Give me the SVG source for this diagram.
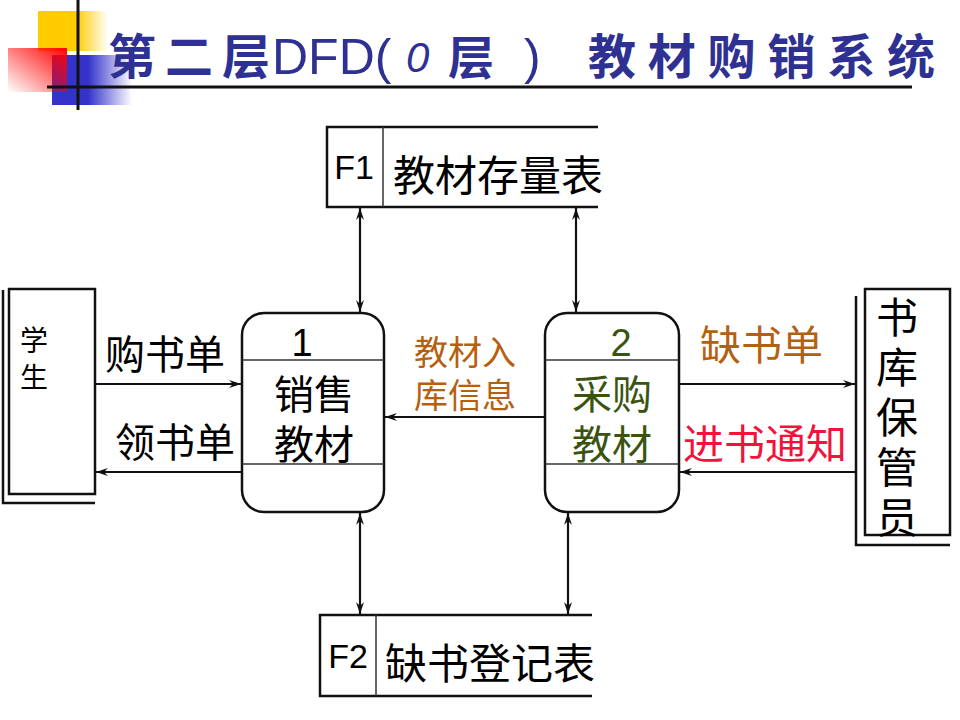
<svg xmlns="http://www.w3.org/2000/svg" width="960" height="720" viewBox="0 0 960 720">
<style>
.t{font-family:"Noto Sans CJK SC","Liberation Sans",sans-serif;}
.l{font-family:"Liberation Sans","Noto Sans CJK SC",sans-serif;}
.box{fill:#fff;stroke:#111;stroke-width:2.5;}
.ln{stroke:#111;stroke-width:2.5;fill:none;}
.thin{stroke:#333;stroke-width:1.5;fill:none;}
.con{stroke:#111;stroke-width:2.2;fill:none;}
.title{fill:#2E3192;}
</style>
<defs>
<linearGradient id="gy" x1="0" y1="0" x2="1" y2="0"><stop offset="0" stop-color="#FFCC00"/><stop offset="0.55" stop-color="#FFCC00"/><stop offset="1" stop-color="#FFCC00" stop-opacity="0"/></linearGradient>
<linearGradient id="gb" x1="0" y1="0" x2="1" y2="0"><stop offset="0" stop-color="#3333CC"/><stop offset="0.45" stop-color="#3333CC"/><stop offset="1" stop-color="#3333CC" stop-opacity="0"/></linearGradient>
<linearGradient id="gr" x1="1" y1="0" x2="0" y2="1"><stop offset="0" stop-color="#FF0000"/><stop offset="1" stop-color="#FF0000" stop-opacity="0"/></linearGradient>
<marker id="ah" viewBox="0 0 12 8" refX="12" refY="4" markerWidth="12" markerHeight="8" markerUnits="userSpaceOnUse" orient="auto-start-reverse"><path d="M0,0 L12,4 L0,8 L4,4 Z" fill="#111"/></marker>
</defs>
<rect width="960" height="720" fill="#fff"/>
<g id="decor">
<rect x="38" y="11" width="70" height="40" fill="url(#gy)"/>
<rect x="52" y="55" width="80" height="50" fill="url(#gb)"/>
<rect x="8" y="48" width="59" height="44" fill="url(#gr)"/>
<line x1="78" y1="0" x2="78" y2="110" stroke="#111" stroke-width="3"/>
<line x1="47" y1="87" x2="912" y2="87" stroke="#111" stroke-width="3"/>
</g>
<g id="title" class="title">
<text class="t" x="108" y="74" font-size="48" font-weight="bold" textLength="162" lengthAdjust="spacing">第二层</text>
<text class="l" x="272" y="74" font-size="50">DFD(</text>
<text class="l" x="406" y="72" font-size="42" font-style="italic">0</text>
<text class="t" x="448" y="74" font-size="46" font-weight="bold">层</text>
<text class="l" x="524" y="74" font-size="50">)</text>
<text class="t" x="588" y="74" font-size="48" font-weight="bold" textLength="347" lengthAdjust="spacing">教材购销系统</text>
</g>
<g id="F1">
<path class="ln" d="M598,127 H327 V207 H598"/>
<line class="thin" x1="383" y1="127" x2="383" y2="207"/>
<text class="l" x="354" y="179" font-size="34" text-anchor="middle">F1</text>
<text class="t" x="393" y="191" font-size="42">教材存量表</text>
</g>
<g id="F2">
<path class="ln" d="M592,615 H320 V696 H592"/>
<line class="thin" x1="376" y1="615" x2="376" y2="696"/>
<text class="l" x="348" y="668" font-size="34" text-anchor="middle">F2</text>
<text class="t" x="385" y="679" font-size="42">缺书登记表</text>
</g>
<g id="student">
<path class="ln" d="M3,290 V503 H95"/>
<rect class="box" x="9" y="289" width="86" height="205"/>
<text class="l" x="20" y="351" font-size="28">学</text>
<text class="l" x="20" y="388" font-size="28">生</text>
</g>
<g id="keeper">
<path class="ln" d="M856,296 V545 H950"/>
<rect class="box" x="865" y="289" width="85" height="246"/>
<text class="t" x="897" y="296" font-size="42" writing-mode="vertical-rl" letter-spacing="8">书库保管员</text>
</g>
<g id="p1">
<rect class="box" x="242" y="313" width="142" height="199" rx="22"/>
<line class="thin" x1="242" y1="360" x2="384" y2="360"/>
<line class="thin" x1="242" y1="464" x2="384" y2="464"/>
<text class="l" x="302" y="356" font-size="38" text-anchor="middle">1</text>
<text class="l" x="314" y="409" font-size="40" text-anchor="middle">销售</text>
<text class="l" x="314" y="459" font-size="40" text-anchor="middle">教材</text>
</g>
<g id="p2">
<rect class="box" x="545" y="313" width="134" height="199" rx="22"/>
<line class="thin" x1="545" y1="360" x2="679" y2="360"/>
<line class="thin" x1="545" y1="464" x2="679" y2="464"/>
<text class="l" x="621" y="356" font-size="38" text-anchor="middle" fill="#3A5410">2</text>
<text class="l" x="612" y="409" font-size="40" text-anchor="middle" fill="#3A5410">采购</text>
<text class="l" x="612" y="459" font-size="40" text-anchor="middle" fill="#3A5410">教材</text>
</g>
<g id="connectors">
<line class="con" x1="360" y1="208" x2="360" y2="312" marker-start="url(#ah)" marker-end="url(#ah)"/>
<line class="con" x1="576" y1="208" x2="576" y2="312" marker-start="url(#ah)" marker-end="url(#ah)"/>
<line class="con" x1="360" y1="513" x2="360" y2="614" marker-start="url(#ah)" marker-end="url(#ah)"/>
<line class="con" x1="568" y1="513" x2="568" y2="614" marker-start="url(#ah)" marker-end="url(#ah)"/>
<line class="con" x1="96" y1="384" x2="241" y2="384" marker-end="url(#ah)"/>
<line class="con" x1="241" y1="472" x2="96" y2="472" marker-end="url(#ah)"/>
<line class="con" x1="545" y1="417" x2="385" y2="417" marker-end="url(#ah)"/>
<line class="con" x1="680" y1="384" x2="855" y2="384" marker-end="url(#ah)"/>
<line class="con" x1="856" y1="472" x2="680" y2="472" marker-end="url(#ah)"/>
<text class="t" x="105" y="369" font-size="40">购书单</text>
<text class="t" x="115" y="457" font-size="40">领书单</text>
<text class="l" x="465" y="365" font-size="34" text-anchor="middle" fill="#B5600F">教材入</text>
<text class="l" x="465" y="408" font-size="34" text-anchor="middle" fill="#B5600F">库信息</text>
<text class="t" x="700" y="360" font-size="41" fill="#B5600F">缺书单</text>
<text class="t" x="683" y="459" font-size="41" fill="#F0143C">进书通知</text>
</g>
</svg>
